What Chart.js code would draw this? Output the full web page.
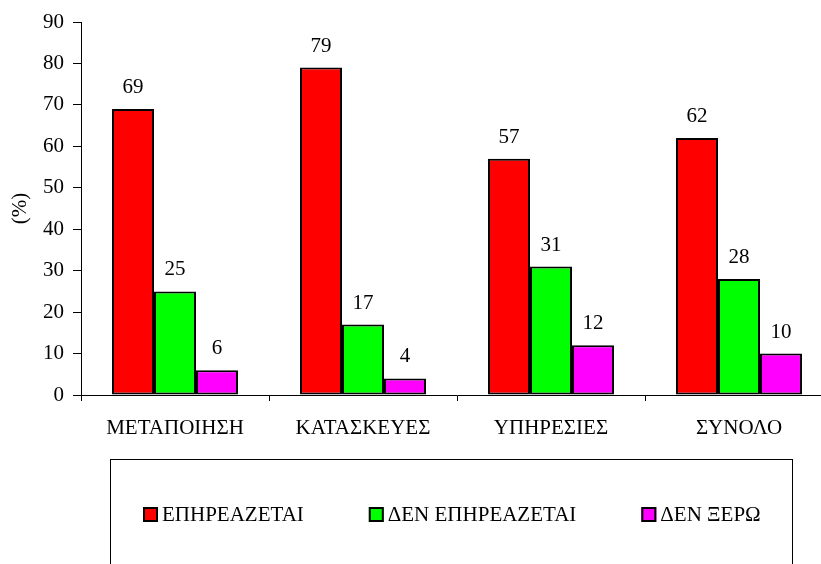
<!DOCTYPE html>
<html>
<head>
<meta charset="UTF-8">
<title>Επηρεασμός ανά κλάδο</title>
<style>
    html, body { margin: 0; padding: 0; background: #fff; overflow: hidden; }
    #wrap { width: 850px; height: 564px; }
</style>
</head>
<body>
<div id="wrap"><canvas id="grafima"></canvas></div>

<script src="https://cdn.jsdelivr.net/npm/chart.js"></script>
<script>
const kladoi = ['ΜΕΤΑΠΟΙΗΣΗ', 'ΚΑΤΑΣΚΕΥΕΣ', 'ΥΠΗΡΕΣΙΕΣ', 'ΣΥΝΟΛΟ'];
const epireazetai = [69, 79, 57, 62];
const denEpireazetai = [25, 17, 31, 28];
const denXero = [6, 4, 12, 10];
const onomataSeiron = ['ΕΠΗΡΕΑΖΕΤΑΙ', 'ΔΕΝ ΕΠΗΡΕΑΖΕΤΑΙ', 'ΔΕΝ ΞΕΡΩ'];
const yTicks = [0, 10, 20, 30, 40, 50, 60, 70, 80, 90];

const grammatoseira = 'Liberation Serif';
Chart.defaults.font.family = grammatoseira;
Chart.defaults.font.size = 21;
Chart.defaults.color = '#000';

// τιμές πάνω από τις μπάρες
const etiketes = {
    id: 'etiketes',
    afterDatasetsDraw(chart) {
        const ctx = chart.ctx;
        ctx.save();
        ctx.font = '21px "Liberation Serif"';
        ctx.fillStyle = '#000';
        ctx.textAlign = 'center';
        ctx.textBaseline = 'alphabetic';
        chart.data.datasets.forEach((ds, i) => {
            chart.getDatasetMeta(i).data.forEach((bar, j) => {
                ctx.fillText(ds.data[j], bar.x, bar.y - 16);
            });
        });
        ctx.restore();
    }
};

// υπόμνημα μέσα σε πλαίσιο κάτω από το γράφημα
const ypomnima = {
    id: 'ypomnima',
    afterDraw(chart) {
        const ctx = chart.ctx;
        ctx.save();
        ctx.strokeStyle = '#000';
        ctx.lineWidth = 1;
        ctx.strokeRect(110.5, 459.5, 682, 200);
        ctx.font = '21px "Liberation Serif"';
        ctx.textBaseline = 'middle';
        let x = 143;
        const y = 515;
        chart.data.datasets.forEach(ds => {
            ctx.fillStyle = ds.backgroundColor;
            ctx.fillRect(x, y - 8, 15, 15);
            ctx.lineWidth = 2;
            ctx.strokeRect(x + 1, y - 7, 13, 13);
            ctx.fillStyle = '#000';
            ctx.fillText(ds.label, x + 19, y);
            x += 19 + ctx.measureText(ds.label).width + 65;
        });
        ctx.restore();
    }
};

const ctx = document.getElementById('grafima').getContext('2d');

const dedomena = {
    labels: kladoi,
    datasets: [
        { label: onomataSeiron[0], data: epireazetai, backgroundColor: '#FF0000' },
        { label: onomataSeiron[1], data: denEpireazetai, backgroundColor: '#00FF00' },
        { label: onomataSeiron[2], data: denXero, backgroundColor: '#FF00FF' }
    ].map(d => Object.assign(d, {
        borderColor: '#000',
        borderWidth: 2,
        borderSkipped: false,
        barPercentage: 1,
        categoryPercentage: 0.67
    }))
};

new Chart(ctx, {
    type: 'bar',
    data: dedomena,
    options: {
        responsive: true,
        maintainAspectRatio: false,
        animation: false,
        layout: { padding: { top: 22, right: 17, left: 0, bottom: 0 } },
        plugins: {
            legend: { display: false },
            tooltip: { enabled: false }
        },
        scales: {
            x: {
                afterFit: s => { s.height = 169; },
                border: { color: '#000', width: 1 },
                grid: { drawOnChartArea: false, tickLength: 6, color: '#000', offset: true },
                ticks: { color: '#000', padding: 15 }
            },
            y: {
                min: 0,
                max: 90,
                afterFit: s => { s.width = 81; },
                afterBuildTicks: s => { s.ticks = yTicks.map(v => ({ value: v })); },
                border: { color: '#000', width: 1 },
                grid: { drawOnChartArea: false, tickLength: 8, color: '#000' },
                ticks: { color: '#000', padding: 9 },
                title: {
                    display: true,
                    text: '(%)',
                    color: '#000',
                    padding: { top: 8, bottom: 0 }
                }
            }
        }
    },
    plugins: [etiketes, ypomnima]
});
</script>
</body>
</html>
